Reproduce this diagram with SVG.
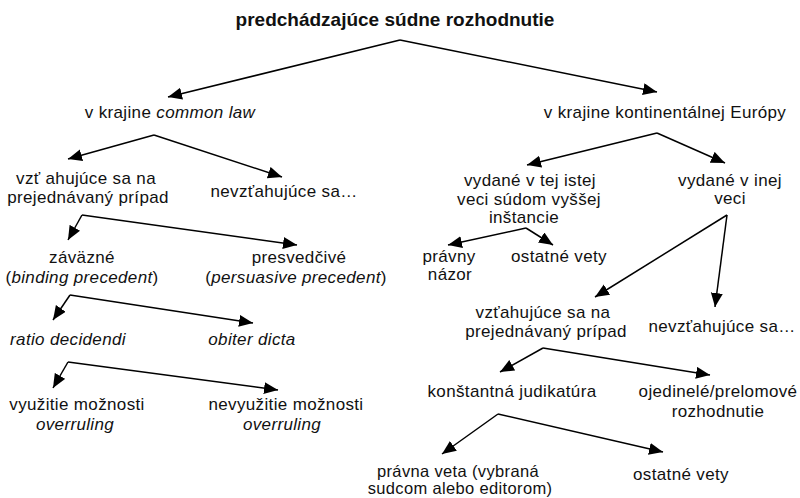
<svg xmlns="http://www.w3.org/2000/svg" width="800" height="498" viewBox="0 0 800 498">
<defs>
<marker id="ah" markerUnits="userSpaceOnUse" markerWidth="15" markerHeight="13" refX="14" refY="6" orient="auto">
<path d="M0,0 L14,6 L0,12 z" fill="#000"/>
</marker>
<style>
text{font-family:"Liberation Sans",Arial,sans-serif;font-size:17px;letter-spacing:0.35px;fill:#111;text-anchor:middle}
.t{font-weight:bold;font-size:19px;letter-spacing:0}
.i{font-style:italic}
.s{font-size:16.5px}
#connectors path{fill:none;stroke:#000;stroke-width:1.5;marker-end:url(#ah)}
</style>
</defs>
<rect width="800" height="498" fill="#fff"/>
<g id="connectors">
<path d="M400,40 L168,97"/><path d="M400,40 L657,92"/>
<path d="M154,135 L68,159"/><path d="M154,135 L282,177"/>
<path d="M82,215 L68,240"/><path d="M82,215 L297,245"/>
<path d="M70,295 L53,320"/><path d="M70,295 L253,323"/>
<path d="M68,362 L53,388"/><path d="M68,362 L278,390"/>
<path d="M657,133 L527,165"/><path d="M657,133 L725,163"/>
<path d="M526,228 L448,245"/><path d="M526,228 L553,245"/>
<path d="M727,215 L595,297"/><path d="M727,215 L715,307"/>
<path d="M543,348 L500,372"/><path d="M543,348 L710,375"/>
<path d="M498,414 L442,454"/><path d="M498,414 L663,452"/>
</g>
<g id="root"><text class="t" x="395" y="26">predchádzajúce súdne rozhodnutie</text></g>
<g id="common"><text x="170" y="118">v krajine <tspan class="i">common law</tspan></text></g>
<g id="kontinent"><text x="665" y="118">v krajine kontinentálnej Európy</text></g>
<g id="cl-vztah"><text x="86" y="184">vzť ahujúce sa na</text><text x="88" y="203">prejednávaný prípad</text></g>
<g id="cl-nevztah"><text x="284" y="197">nevzťahujúce sa…</text></g>
<g id="zavazne"><text x="82" y="263">záväzné</text><text x="82" y="283">(<tspan class="i">binding precedent</tspan>)</text></g>
<g id="presvedcive"><text x="299" y="263">presvedčivé</text><text x="296" y="283">(<tspan class="i">persuasive precedent</tspan>)</text></g>
<g id="ratio"><text class="i" x="68" y="345">ratio decidendi</text></g>
<g id="obiter"><text class="i" x="252" y="345">obiter dicta</text></g>
<g id="vyuzitie"><text x="77" y="410">využitie možnosti</text><text class="i" x="75" y="430">overruling</text></g>
<g id="nevyuzitie"><text x="286" y="410">nevyužitie možnosti</text><text class="i" x="282" y="430">overruling</text></g>
<g id="ta-ista"><text x="530" y="186">vydané v tej istej</text><text x="529" y="205">veci súdom vyššej</text><text x="524" y="223">inštancie</text></g>
<g id="ina"><text x="730" y="186">vydané v inej</text><text x="730" y="204">veci</text></g>
<g id="pravny-nazor"><text x="449" y="262">právny</text><text x="450" y="280">názor</text></g>
<g id="ostatne1"><text x="559" y="262">ostatné vety</text></g>
<g id="ke-vztah"><text x="543" y="318">vzťahujúce sa na</text><text x="546" y="337">prejednávaný prípad</text></g>
<g id="ke-nevztah"><text x="722" y="332">nevzťahujúce sa…</text></g>
<g id="konstantna"><text x="512" y="397">konštantná judikatúra</text></g>
<g id="ojedinele"><text x="718" y="397">ojedinelé/prelomové</text><text x="718" y="417">rozhodnutie</text></g>
<g id="pravna-veta"><text class="s" x="458" y="477">právna veta (vybraná</text><text class="s" x="460" y="494">sudcom alebo editorom)</text></g>
<g id="ostatne2"><text x="681" y="480">ostatné vety</text></g>
</svg>
